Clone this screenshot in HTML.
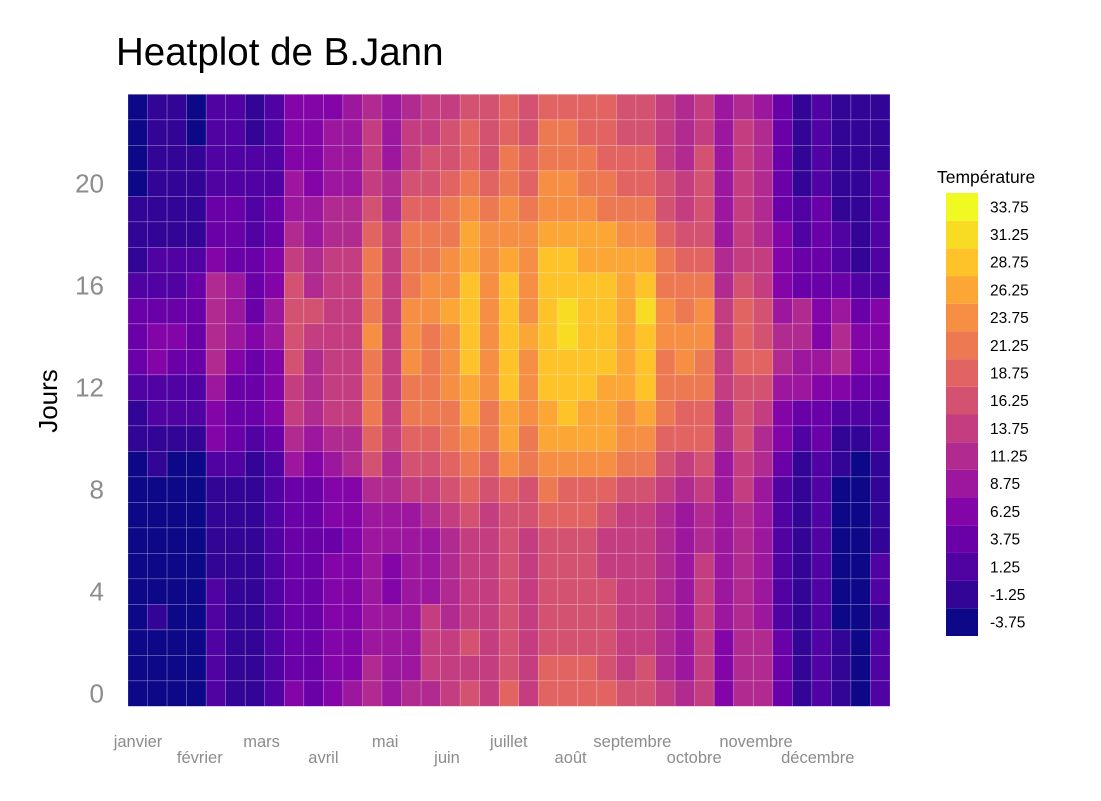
<!DOCTYPE html>
<html><head><meta charset="utf-8"><style>
body{margin:0;background:#fff;}
svg{display:block;font-family:"Liberation Sans",sans-serif;}
</style></head><body>
<svg id="chart" width="1101" height="801" viewBox="0 0 1101 801">
<text x="116" y="65" font-size="38.5" fill="#000">Heatplot de B.Jann</text>
<text transform="translate(57,401) rotate(-90)" text-anchor="middle" font-size="26" fill="#000">Jours</text>
<g id="cells"></g>
<g id="yticks"></g>
<g id="xticks"></g>
<g id="legend">
<text x="937" y="183" font-size="17.5" fill="#000">Température</text>
</g>
</svg>
<script>
const months = ["janvier","février","mars","avril","mai","juin","juillet","août","septembre","octobre","novembre","décembre"];
const yTicks = [0,4,8,12,16,20];
const legendLabels = ["-3.75","-1.25","1.25","3.75","6.25","8.75","11.25","13.75","16.25","18.75","21.25","23.75","26.25","28.75","31.25","33.75"];
// bin index per cell; temperature = -3.75 + 2.5*bin ; rows are hours 0..23
const binsByHour = [
[0,0,0,0,2,1,1,2,4,3,4,5,6,5,6,6,7,8,7,9,7,9,9,9,9,8,8,7,6,7,4,6,6,3,1,2,1,0,2],
[0,0,0,0,2,1,1,2,3,3,4,4,6,5,5,7,7,7,7,8,7,9,9,9,8,7,8,6,5,7,4,6,6,3,1,2,1,0,2],
[0,0,0,0,2,1,1,2,3,3,4,4,5,5,5,7,7,8,7,8,7,8,8,8,8,7,7,6,5,7,4,6,6,3,1,2,1,0,2],
[0,1,0,0,2,1,1,2,3,3,4,4,5,5,5,7,6,7,7,8,7,8,8,8,8,7,7,6,5,7,5,6,5,2,1,2,0,0,1],
[0,0,0,0,2,1,1,2,3,3,4,4,5,4,5,5,6,7,7,8,7,8,8,8,8,7,7,6,5,7,5,6,5,2,1,2,0,0,2],
[0,0,0,0,1,1,1,2,3,3,4,4,5,4,5,5,6,7,7,8,7,8,8,8,7,7,7,6,5,7,5,6,5,2,1,2,0,0,2],
[0,0,0,0,1,1,1,2,3,3,3,4,5,5,5,5,6,7,7,8,7,8,8,8,7,7,7,6,5,6,5,6,5,2,1,2,0,0,1],
[0,0,0,0,1,1,1,2,3,3,4,4,5,5,5,6,7,8,7,8,8,9,9,9,8,7,7,6,5,6,5,6,5,2,1,2,0,0,1],
[0,0,0,0,1,1,1,2,3,3,4,4,6,6,7,7,8,9,8,9,8,10,9,9,9,8,8,7,6,7,5,7,5,2,1,2,0,0,1],
[0,1,0,0,2,2,1,2,5,4,5,6,8,6,8,8,9,10,9,11,10,11,11,11,11,10,10,8,7,8,5,7,6,3,1,2,1,0,1],
[1,1,1,1,4,3,2,3,6,5,6,6,9,7,9,9,10,11,10,12,10,12,12,12,12,11,11,9,9,9,6,8,6,4,2,3,1,1,2],
[1,2,2,2,4,3,3,4,7,6,7,7,10,7,10,10,10,12,10,12,11,12,13,12,12,11,12,10,9,9,6,8,7,4,3,3,2,2,2],
[2,2,2,2,5,3,3,4,7,6,7,7,10,7,10,10,11,12,11,13,11,13,13,13,12,12,13,10,10,10,7,8,8,5,5,4,4,3,3],
[3,4,3,3,6,4,3,4,8,6,7,7,10,7,11,10,11,13,11,13,11,13,13,13,13,12,13,10,11,10,7,9,9,6,5,5,6,4,4],
[3,4,4,3,6,5,4,5,8,7,7,7,11,7,11,10,11,13,11,13,12,13,14,13,13,12,13,11,11,11,7,9,8,6,6,4,6,4,4],
[3,3,3,3,6,5,3,5,8,8,7,7,10,7,11,11,12,13,11,13,11,13,14,13,13,12,14,11,10,11,7,9,8,5,6,4,5,3,4],
[2,2,2,3,6,5,3,4,8,6,7,7,10,7,10,11,11,13,11,13,11,13,13,13,13,12,13,10,10,10,6,8,7,4,3,3,3,2,2],
[1,2,2,2,4,3,3,4,7,6,7,7,10,7,10,10,11,12,11,12,11,13,13,12,12,12,12,10,9,9,6,7,7,4,3,3,2,1,2],
[1,1,1,1,3,3,2,3,6,5,6,6,9,7,10,10,10,12,11,11,11,12,12,12,12,11,11,9,8,8,5,7,6,4,2,3,2,1,2],
[1,1,1,1,3,3,2,3,5,5,6,6,8,6,9,9,10,11,10,11,10,11,11,11,10,10,10,8,7,8,5,7,6,3,2,3,1,1,2],
[0,1,1,1,2,2,2,2,5,4,5,5,7,6,8,8,9,10,9,10,9,11,11,10,10,9,9,8,7,8,5,7,6,3,1,2,1,1,2],
[0,1,1,1,2,2,2,2,4,4,5,5,7,5,7,8,8,9,8,10,9,10,10,10,9,9,9,7,6,8,5,7,6,3,1,2,1,1,1],
[0,1,1,0,2,2,1,2,4,4,5,5,7,5,7,7,8,9,8,9,8,10,10,9,9,8,8,7,6,7,5,7,6,3,1,2,1,1,1],
[0,1,1,0,2,2,1,2,4,4,4,5,6,5,6,7,7,8,8,9,8,9,9,9,9,8,8,7,6,7,5,6,5,3,1,2,1,1,1]
];
const temps = binsByHour.map(r => r.map(b => -3.75 + 2.5*b));
const palette = ["#0d0887","#330597","#5002a2","#6a00a8","#8405a7","#9c179e","#b12a90","#c33d80","#d35171","#e16462","#ed7953","#f68f44","#fca636","#fdc328","#f8dc24","#f0f921"];

const NS="http://www.w3.org/2000/svg";
const nCols = temps[0].length, nRows = temps.length;
const x0=128, x1=890, yTop=94.3, yBot=706.3;
const cw=(x1-x0)/nCols, rh=(yBot-yTop)/nRows;
const xScale = c => x0 + c*cw;
const yScale = h => yBot - (h+1)*rh;
const colorOf = v => palette[Math.max(0,Math.min(15,Math.round((v+3.75)/2.5)))];

const gc=document.getElementById('cells');
temps.forEach((row,h)=>row.forEach((v,c)=>{
  const r=document.createElementNS(NS,'rect');
  r.setAttribute('x',xScale(c));r.setAttribute('y',yScale(h));
  r.setAttribute('width',cw);r.setAttribute('height',rh);
  r.setAttribute('fill',colorOf(v));
  r.setAttribute('stroke','rgba(255,255,255,0.3)');r.setAttribute('stroke-width','0.6');
  
  
  gc.appendChild(r);
}));

const gy=document.getElementById('yticks');
yTicks.forEach(t=>{
  const tx=document.createElementNS(NS,'text');
  tx.setAttribute('x',104);tx.setAttribute('y',yScale(t)+rh/2+9);
  tx.setAttribute('text-anchor','end');tx.setAttribute('font-size','26');tx.setAttribute('fill','#8c8c8c');
  tx.textContent=t;
  
  
  gy.appendChild(tx);
});

const gx=document.getElementById('xticks');
months.forEach((m,i)=>{
  const tx=document.createElementNS(NS,'text');
  tx.setAttribute('x',138 + i*61.8);tx.setAttribute('y', i%2===0 ? 747 : 763);
  tx.setAttribute('text-anchor','middle');tx.setAttribute('font-size','16.5');tx.setAttribute('fill','#8c8c8c');
  tx.textContent=m;
  
  
  gx.appendChild(tx);
});

const gl=document.getElementById('legend');
const lh=(636-193)/legendLabels.length;
legendLabels.forEach((lab,i)=>{
  const yy=636-(i+1)*lh;
  const r=document.createElementNS(NS,'rect');
  r.setAttribute('x',946);r.setAttribute('y',yy);r.setAttribute('width',32);r.setAttribute('height',lh);
  r.setAttribute('fill',colorOf(parseFloat(lab)));
  
  
  gl.appendChild(r);
  const t=document.createElementNS(NS,'text');
  t.setAttribute('x',990);t.setAttribute('y',yy+lh/2+5.5);t.setAttribute('font-size','15.5');t.setAttribute('fill','#000');
  t.textContent=lab;
  
  
  gl.appendChild(t);
});
</script>
</body></html>
